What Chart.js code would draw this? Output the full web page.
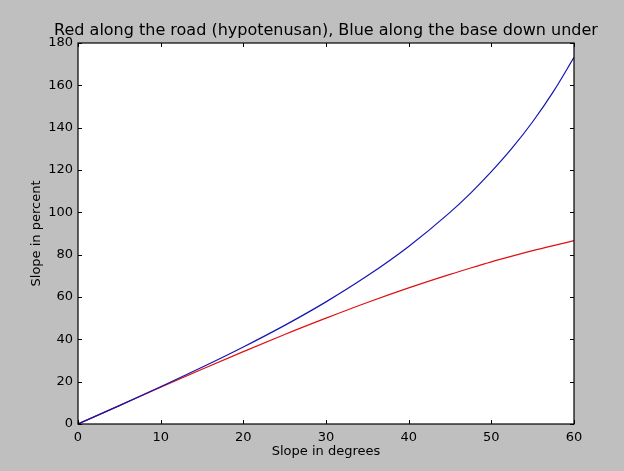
<!DOCTYPE html>
<html>
<head>
<meta charset="utf-8">
<script src="https://cdn.jsdelivr.net/npm/chart.js@4"></script>
<style>
  html, body { margin: 0; padding: 0; background: #bfbfbf; }
  #wrap { width: 624px; height: 471px; }
</style>
</head>
<body>
<div id="wrap"><canvas id="slopeChart" width="624" height="471"></canvas></div>
<script>
// Values
const degrees = [0, 5, 10, 15, 20, 25, 30, 35, 40, 45, 47.5, 50, 52.5, 55, 57.5, 60];
const baseSlope = [0, 8.7, 17.6, 26.8, 36.4, 46.6, 57.7, 70.0, 83.9, 100, 109.1, 119.2, 130.3, 142.8, 157.0, 173.2];
const roadSlope = [0, 8.7, 17.4, 25.9, 34.2, 42.3, 50.0, 57.4, 64.3, 70.7, 73.7, 76.6, 79.3, 81.9, 84.3, 86.6];
const xTicks = [0, 10, 20, 30, 40, 50, 60];
const yTicks = [0, 20, 40, 60, 80, 100, 120, 140, 160, 180];

const FONT = "'DejaVu Sans', sans-serif";
const TITLE = 'Red along the road (hypotenusan), Blue along the base down under';

function toPoints(values) {
    return degrees.map(function(d, i) { return { x: d, y: values[i] }; });
}

// white plot area, frame, inward ticks on all four sides, titles
const frameAndTicks = {
    id: 'frameAndTicks',
    beforeDatasetsDraw: function(chart) {
        const a = chart.chartArea;
        const ctx = chart.ctx;
        ctx.save();
        ctx.fillStyle = '#ffffff';
        ctx.fillRect(a.left, a.top, a.right - a.left, a.bottom - a.top);
        ctx.restore();
    },
    afterDatasetsDraw: function(chart) {
        const a = chart.chartArea;
        const ctx = chart.ctx;
        const xs = chart.scales.x, ys = chart.scales.y;
        const len = 4;
        ctx.save();
        ctx.strokeStyle = '#000000';
        ctx.lineWidth = 1;
        ctx.beginPath();
        xTicks.forEach(function(v) {
            const px = Math.round(xs.getPixelForValue(v)) + 0.5;
            ctx.moveTo(px, a.bottom); ctx.lineTo(px, a.bottom - len);
            ctx.moveTo(px, a.top); ctx.lineTo(px, a.top + len);
        });
        yTicks.forEach(function(v) {
            const py = Math.round(ys.getPixelForValue(v)) + 0.5;
            ctx.moveTo(a.left, py); ctx.lineTo(a.left + len, py);
            ctx.moveTo(a.right, py); ctx.lineTo(a.right - len, py);
        });
        ctx.stroke();
        ctx.lineWidth = 1.2;
        ctx.strokeRect(a.left, a.top, a.right - a.left, a.bottom - a.top);

        const cx = (a.left + a.right) / 2;
        const cy = (a.top + a.bottom) / 2;
        ctx.fillStyle = '#000';
        ctx.textAlign = 'center';
        ctx.textBaseline = 'middle';
        ctx.font = '16px ' + FONT;
        ctx.fillText(TITLE, cx, 31);
        ctx.font = '13px ' + FONT;
        ctx.fillText('Slope in degrees', cx, 452);
        ctx.translate(37, cy);
        ctx.rotate(-Math.PI / 2);
        ctx.fillText('Slope in percent', 0, 0);
        ctx.restore();
    }
};

const ctx = document.getElementById('slopeChart').getContext('2d');
new Chart(ctx, {
    type: 'line',
    data: {
        datasets: [{
            label: 'Base',
            data: toPoints(baseSlope),
            borderColor: '#1414b4',
            borderWidth: 1.2,
            pointRadius: 0,
            cubicInterpolationMode: 'monotone',
            fill: false
        }, {
            label: 'Road',
            data: toPoints(roadSlope),
            borderColor: '#e01010',
            borderWidth: 1.2,
            pointRadius: 0,
            cubicInterpolationMode: 'monotone',
            fill: false
        }]
    },
    options: {
        responsive: false,
        animation: false,
        layout: { padding: { left: 0, right: 50, top: 43, bottom: 0 } },
        scales: {
            x: {
                type: 'linear',
                min: 0,
                max: 60,
                afterBuildTicks: function(scale) {
                    scale.ticks = xTicks.map(function(v) { return { value: v }; });
                },
                afterFit: function(scale) { scale.height = 47; },
                grid: { display: false, drawTicks: false },
                border: { display: false },
                ticks: { color: '#000', font: { family: FONT, size: 13 }, padding: 6, maxRotation: 0 }
            },
            y: {
                min: 0,
                max: 180,
                afterBuildTicks: function(scale) {
                    scale.ticks = yTicks.map(function(v) { return { value: v }; });
                },
                afterFit: function(scale) { scale.width = 78; },
                grid: { display: false, drawTicks: false },
                border: { display: false },
                ticks: { color: '#000', font: { family: FONT, size: 13 }, padding: 5 }
            }
        },
        plugins: {
            legend: { display: false },
            tooltip: { enabled: false },
            title: { display: false }
        }
    },
    plugins: [frameAndTicks]
});
</script>
</body>
</html>
